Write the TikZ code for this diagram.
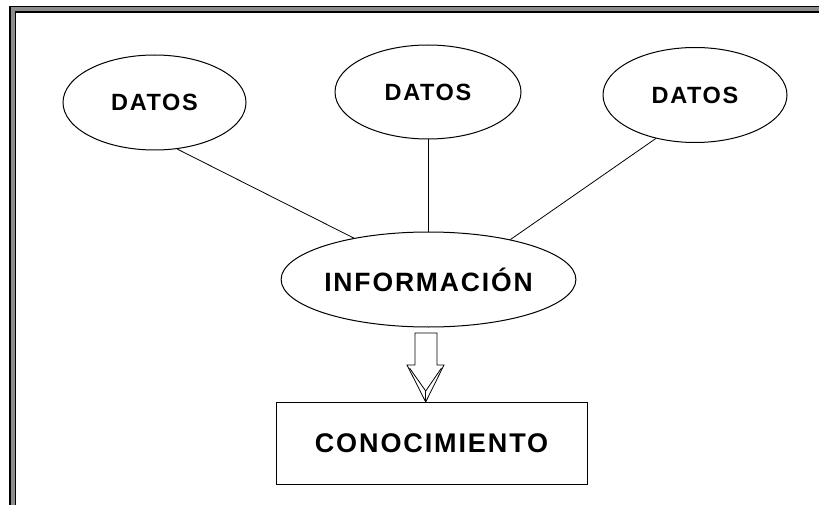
\documentclass[tikz,border=0pt]{standalone}
\usepackage{fontspec}
\setmainfont{Liberation Sans}
\newfontfamily\lblfont[LetterSpace=7]{Liberation Sans}
\usetikzlibrary{shapes.geometric}
\begin{document}
\begin{tikzpicture}[x=1pt,y=-1pt,
  ell/.style={draw=black,line width=1pt,ellipse,inner sep=0pt},
  box/.style={draw=black,line width=1pt,rectangle,inner sep=0pt},
  conn/.style={draw=black,line width=0.8pt}]
\useasboundingbox (0,0) rectangle (819,505);
\begin{scope}
\clip (0,0) rectangle (819,505);
\draw[line width=7pt,black,line join=miter] (12.5,560) -- (12.5,9.5) -- (880,9.5);
\draw[line width=4pt,black!45,line join=miter] (12.5,560) -- (12.5,9.5) -- (880,9.5);
\end{scope}
\node[ell,minimum width=183pt,minimum height=95pt,font=\lblfont\bfseries\fontsize{23.5}{28}\selectfont] (d1) at (154.5,102.5) {DATOS};
\node[ell,minimum width=186pt,minimum height=94pt,font=\lblfont\bfseries\fontsize{23.5}{28}\selectfont] (d2) at (428,92) {DATOS};
\node[ell,minimum width=184pt,minimum height=95pt,font=\lblfont\bfseries\fontsize{23.5}{28}\selectfont] (d3) at (695,95) {DATOS};
\node[ell,minimum width=294pt,minimum height=95pt,font=\lblfont\bfseries\fontsize{26.5}{30}\selectfont] (info) at (428.5,279.5) {INFORMACIÓN};
\node[box,minimum width=311pt,minimum height=82pt,font=\lblfont\bfseries\fontsize{27}{30}\selectfont] (con) at (431.5,443) {CONOCIMIENTO};
\draw[conn] (d1.-64) -- (info.151);
\draw[conn] (d2.south) -- (d2.south |- info.north);
\draw[conn] (d3.-132) -- (info.26.6);
% block arrow
\coordinate (tip) at (425.7,402);
\draw[line width=0.8pt,line join=miter] (415,333) -- (437,333) -- (437,365) -- (444,365) -- (tip) -- (407,365) -- (415,365) -- cycle;
\draw[line width=0.8pt] (409.5,368) -- (425.7,391) -- (441.5,368);
\draw[line width=0.8pt] (425.7,391) -- (tip);
\end{tikzpicture}
\end{document}
